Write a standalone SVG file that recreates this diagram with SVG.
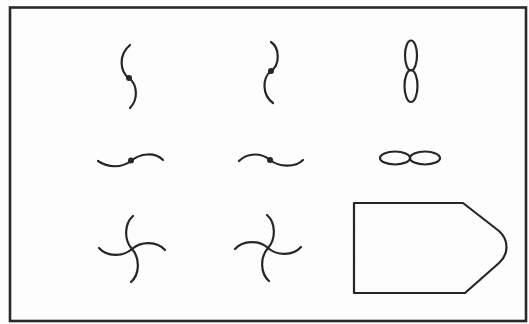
<svg xmlns="http://www.w3.org/2000/svg" width="529" height="324" viewBox="0 0 529 324">
<style>
.s{fill:none;stroke:#262626;stroke-width:2.2;stroke-linecap:round;stroke-linejoin:round}
.d{fill:#262626}
</style>
<defs>
<path id="arm" d="M0,0 C-8,-9 -8,-25 1,-33"/>
</defs>
<rect width="529" height="324" fill="#fdfdfd"/>
<rect x="10" y="7.5" width="516" height="313.5" fill="none" stroke="#2a2a2a" stroke-width="2.6"/>
<g id="s1"><path class="s" d="M130,45 C118,55 120,72 129,78 C138,85 138,100 130,108"/><circle class="d" cx="129" cy="78" r="3"/></g>
<g id="s2"><path class="s" d="M271,42 C280,48 280,65 271,71 C262,78 262,95 273,103"/><circle class="d" cx="271" cy="71" r="3"/></g>
<g id="s3"><ellipse class="s" cx="411" cy="55.5" rx="6" ry="15"/><ellipse class="s" cx="411" cy="86" rx="6.5" ry="16"/></g>
<g id="s4"><path class="s" d="M98,161 C108,168 122,168 131,161 C140,153 155,152 163,160"/><circle class="d" cx="131" cy="160.5" r="3"/></g>
<g id="s5"><path class="s" d="M239,161 C248,152 262,153 270,160 C279,167 295,168 303,160"/><circle class="d" cx="270" cy="160" r="3"/></g>
<g id="s6"><ellipse class="s" cx="395" cy="158" rx="15" ry="6.5"/><ellipse class="s" cx="425" cy="158" rx="15" ry="6.5"/></g>
<g id="s7" transform="translate(132,249)">
<use href="#arm" class="s"/><use href="#arm" class="s" transform="rotate(-90)"/><use href="#arm" class="s" transform="rotate(180)"/><use href="#arm" class="s" transform="rotate(90)"/>
</g>
<g id="s8" transform="translate(268,248) scale(-1,1)">
<use href="#arm" class="s"/><use href="#arm" class="s" transform="rotate(-90)"/><use href="#arm" class="s" transform="rotate(180)"/><use href="#arm" class="s" transform="rotate(90)"/>
</g>
<g id="s9"><path class="s" stroke-width="2.6" d="M354,203 H463 L499,231 C509,240 509,254 499,263 L465,293 H354 Z"/></g>
<g id="connectors"/>
</svg>
